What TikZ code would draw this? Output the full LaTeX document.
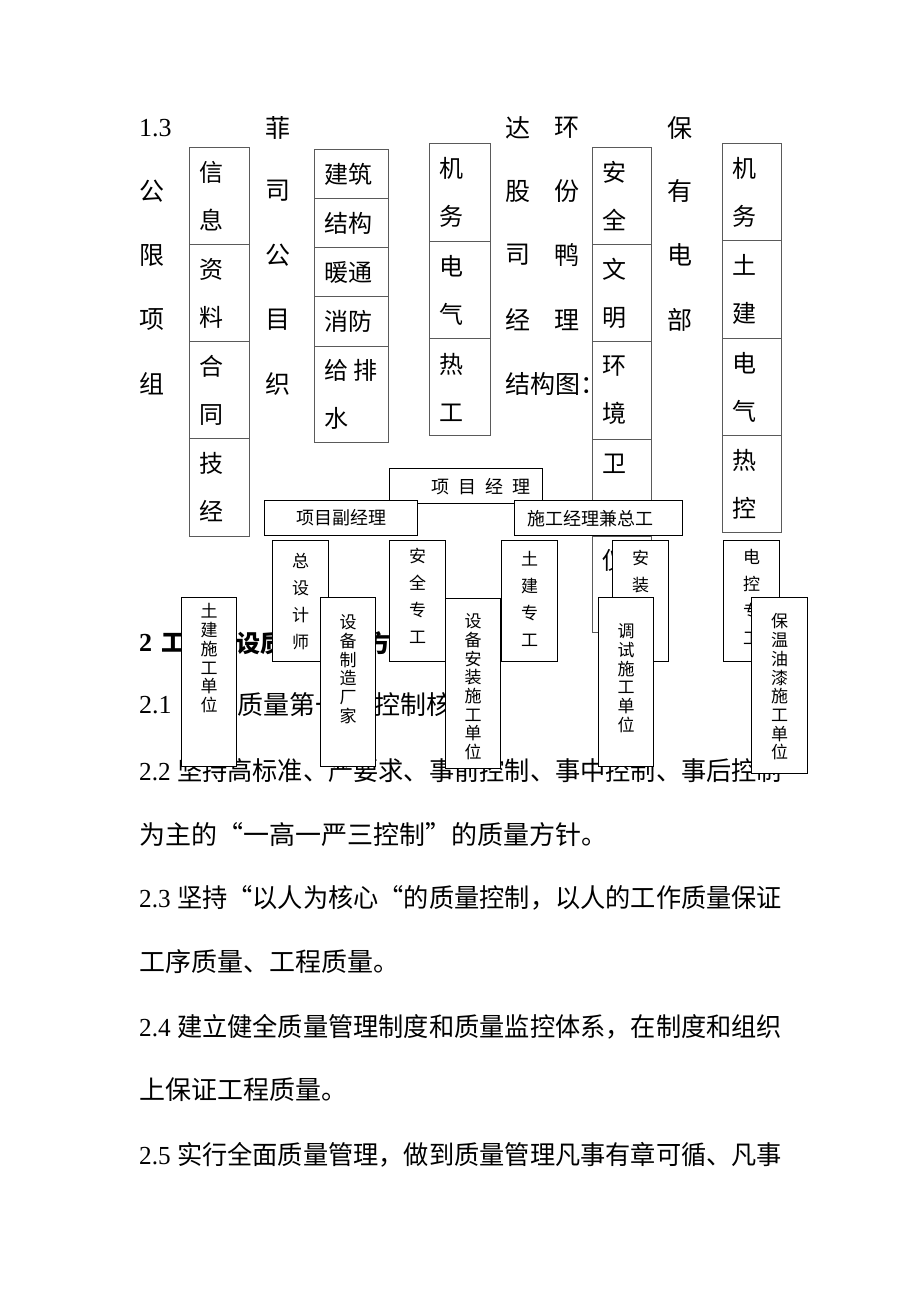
\documentclass[tikz,border=0pt]{standalone}
\usepackage{graphicx}
\usepackage{fontspec}
\setmainfont{Liberation Serif}
\newfontfamily\cjk{Noto Sans CJK SC}
\usetikzlibrary{positioning}
\definecolor{cellgray}{RGB}{90,90,90}
\newcommand{\fsize}[2]{\fontsize{#1}{#2}\selectfont}
\newcommand{\fullline}[1]{\resizebox{643pt}{\height}{#1}}

\tikzset{
  coltext/.style={anchor=west, inner sep=0pt, font=\cjk\fsize{25}{25}},
  bodytext/.style={anchor=west, inner sep=0pt, font=\cjk\fsize{26}{26}},
  gridcell/.style={draw=cellgray, line width=1pt, anchor=north west, inner xsep=10pt, inner ysep=0pt, align=left, font=\cjk\fsize{24}{48}},
  orgbox/.style={draw=black, line width=1.3pt, fill=white, anchor=north west, inner ysep=0pt, minimum height=35pt, font=\cjk\fsize{18}{18}},
  stackbox/.style={draw=black, line width=1.3pt, fill=white, anchor=north west, inner sep=0pt, minimum width=56pt},
  vtext/.style={inner sep=0pt, align=center, font=\cjk\fsize{17}{27}},
  vtalltext/.style={inner sep=0pt, align=center, font=\cjk\fsize{17}{18.7}},
}

\begin{document}
\begin{tikzpicture}[x=1pt, y=-1pt]
  \fill[white] (0,0) rectangle (920,1302);
  \useasboundingbox (0,0) rectangle (920,1302);

  % 1.3 heading, set round the tables
  \node[coltext, font=\rmfamily\fsize{26}{26}] (pa0) at (139,128) {1.3};
  \foreach \ch/\yy [count=\i] in {公/191,限/255,项/320,组/384}
    \node[coltext] (pa\i) at (139,\yy) {\ch};
  \foreach \ch/\yy [count=\i] in {菲/128,司/191,公/255,目/320,织/384}
    \node[coltext] (pb\i) at (265,\yy) {\ch};
  \foreach \ch/\yy [count=\i] in {达/128,股/191,司/255,经/320,结构图：/384}
    \node[coltext] (pc\i) at (505,\yy) {\ch};
  \foreach \ch/\yy [count=\i] in {环/128,份/191,鸭/255,理/320}
    \node[coltext] (pd\i) at (554,\yy) {\ch};
  \foreach \ch/\yy [count=\i] in {保/128,有/191,电/255,部/320}
    \node[coltext] (pe\i) at (667,\yy) {\ch};

  % section 2
  \node[bodytext, font=\bfseries\rmfamily\fsize{26}{26}] (h1) at (139,643) {2};
  \node[bodytext, font=\bfseries\cjk\fsize{24}{24}] (h2) at (161,643) {工};
  \node[bodytext, font=\bfseries\cjk\fsize{24}{24}] (h3) at (236,643) {设质};
  \node[bodytext, font=\bfseries\cjk\fsize{24}{24}] (h4) at (366,643) {方};
  \node[bodytext] (l21a) at (139,705) {\rmfamily 2.1};
  \node[bodytext] (l21b) at (237,705) {质量第一};
  \node[bodytext] (l21c) at (374,705) {控制核};
  \node[bodytext] (l22) at (139,771) {\fullline{\rmfamily 2.2 \cjk 坚持高标准、严要求、事前控制、事中控制、事后控制}};
  \node[bodytext] (l22b) at (139,835) {为主的“一高一严三控制”的质量方针。};
  \node[bodytext] (l23) at (139,898) {\fullline{\rmfamily 2.3 \cjk 坚持“以人为核心“的质量控制，以人的工作质量保证}};
  \node[bodytext] (l23b) at (139,962) {工序质量、工程质量。};
  \node[bodytext] (l24) at (139,1027) {\fullline{\rmfamily 2.4 \cjk 建立健全质量管理制度和质量监控体系，在制度和组织}};
  \node[bodytext] (l24b) at (139,1090) {上保证工程质量。};
  \node[bodytext] (l25) at (139,1155) {\fullline{\rmfamily 2.5 \cjk 实行全面质量管理，做到质量管理凡事有章可循、凡事}};

  % tables
  \node[gridcell, text width=40pt, minimum height=97pt] (xx1) at (189,147) {信\\息};
  \node[gridcell, text width=40pt, minimum height=97pt] (xx2) at (189,244) {资\\料};
  \node[gridcell, text width=40pt, minimum height=97pt] (xx3) at (189,341) {合\\同};
  \node[gridcell, text width=40pt, minimum height=98pt] (xx4) at (189,438) {技\\经};

  \node[gridcell, text width=54pt, minimum height=49pt] (jz1) at (314,149) {建筑};
  \node[gridcell, text width=54pt, minimum height=49pt] (jz2) at (314,198) {结构};
  \node[gridcell, text width=54pt, minimum height=49pt] (jz3) at (314,247) {暖通};
  \node[gridcell, text width=54pt, minimum height=50pt] (jz4) at (314,296) {消防};
  \node[gridcell, text width=54pt, minimum height=96pt] (jz5) at (314,346) {给\hspace{5pt}排\\水};

  \node[gridcell, text width=41pt, minimum height=98pt] (jd1) at (429,143) {机\\务};
  \node[gridcell, text width=41pt, minimum height=97pt] (jd2) at (429,241) {电\\气};
  \node[gridcell, text width=41pt, minimum height=97pt] (jd3) at (429,338) {热\\工};

  \node[gridcell, text width=39pt, minimum height=97pt] (aq1) at (592,147) {安\\全};
  \node[gridcell, text width=39pt, minimum height=97pt] (aq2) at (592,244) {文\\明};
  \node[gridcell, text width=39pt, minimum height=98pt] (aq3) at (592,341) {环\\境};
  \node[gridcell, text width=39pt, minimum height=97pt] (aq4) at (592,439) {卫\\\phantom{卫}};
  \node[gridcell, text width=39pt, minimum height=96pt] (aq5) at (592,536) {仪\\\phantom{仪}};

  \node[gridcell, text width=39pt, minimum height=97pt] (jt1) at (722,143) {机\\务};
  \node[gridcell, text width=39pt, minimum height=98pt] (jt2) at (722,240) {土\\建};
  \node[gridcell, text width=39pt, minimum height=97pt] (jt3) at (722,338) {电\\气};
  \node[gridcell, text width=39pt, minimum height=97pt] (jt4) at (722,435) {热\\控};

  % org chart
  \node[orgbox, text width=129pt, inner xsep=12pt, align=right] (xmjl) at (389,468) {项\hspace{9pt}目\hspace{9pt}经\hspace{9pt}理};
  \node[orgbox, minimum width=153pt] (fujl) at (264,500) {项目副经理};
  \node[orgbox, text width=142pt, inner xsep=13pt, align=left] (sgjl) at (514,500) {施工经理兼总工};

  \node[stackbox, minimum height=121pt] (zsj) at (272,540) {};
  \node[vtext, below=13.5pt of zsj.north] (zsjt) {总\\设\\计\\师};
  \node[stackbox, minimum height=121pt] (aqzg) at (389,540) {};
  \node[vtext, below=7.5pt of aqzg.north] (aqzgt) {安\\全\\专\\工};
  \node[stackbox, minimum height=121pt] (tjzg) at (501,540) {};
  \node[vtext, below=11.5pt of tjzg.north] (tjzgt) {土\\建\\专\\工};
  \node[stackbox, minimum height=121pt] (azzg) at (612,540) {};
  \node[vtext, below=9.5pt of azzg.north] (azzgt) {安\\装};
  \node[stackbox, minimum height=121pt] (dkzg) at (723,540) {};
  \node[vtext, below=9.5pt of dkzg.north] (dkzgt) {电\\控\\专\\工};

  \node[stackbox, minimum width=55pt, minimum height=169pt] (tjsg) at (181,597) {};
  \node[vtalltext, below=6.5pt of tjsg.north] (tjsgt) {土\\建\\施\\工\\单\\位};
  \node[stackbox, minimum width=55pt, minimum height=169pt] (sbzz) at (320,597) {};
  \node[vtalltext, below=17.5pt of sbzz.north] (sbzzt) {设\\备\\制\\造\\厂\\家};
  \node[stackbox, minimum width=55pt, minimum height=170pt] (sbaz) at (445,598) {};
  \node[vtalltext, below=15.5pt of sbaz.north] (sbazt) {设\\备\\安\\装\\施\\工\\单\\位};
  \node[stackbox, minimum width=55pt, minimum height=169pt] (tssg) at (598,597) {};
  \node[vtalltext, below=26.5pt of tssg.north] (tssgt) {调\\试\\施\\工\\单\\位};
  \node[stackbox, minimum width=56pt, minimum height=176pt] (bwyq) at (751,597) {};
  \node[vtalltext, below=16.5pt of bwyq.north] (bwyqt) {保\\温\\油\\漆\\施\\工\\单\\位};
\end{tikzpicture}
\end{document}
